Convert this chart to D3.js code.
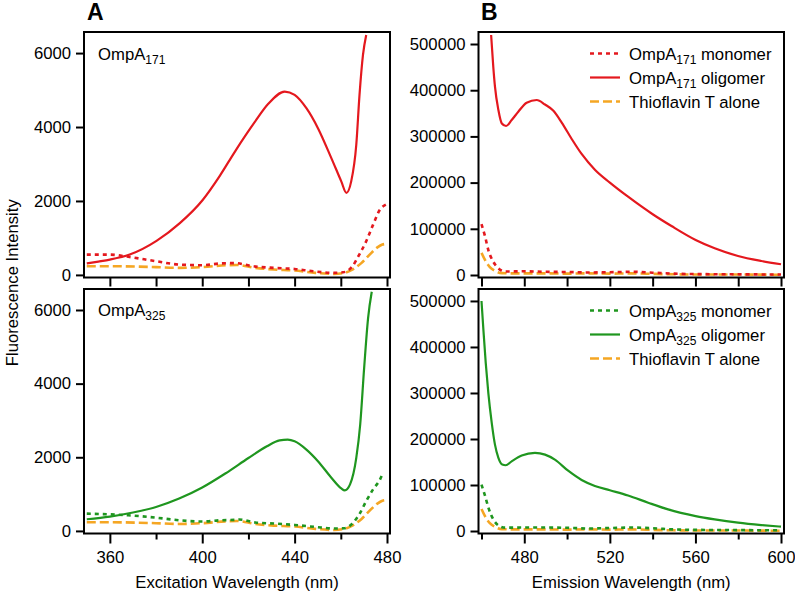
<!DOCTYPE html>
<html><head><meta charset="utf-8">
<script src="https://cdn.jsdelivr.net/npm/d3@7"></script>
<style>
body{margin:0;background:#fff;}
svg{display:block;font-family:"Liberation Sans",Arial,Helvetica,sans-serif;}
</style></head>
<body><svg id="chart" width="795" height="594"></svg>
<script>
// ---------- DATA ----------
const excTicks = [360, 380, 400, 420, 440, 460, 480];
const excLabelTicks = [360, 400, 440, 480];
const excYTicks = [0, 2000, 4000, 6000];
const emTicks = [460, 480, 500, 520, 540, 560, 580, 600];
const emLabelTicks = [480, 520, 560, 600];
const emYTicks = [0, 100000, 200000, 300000, 400000, 500000];

// Excitation spectra (panel A)
const excThtNm = [350, 360, 380, 390, 400, 410, 415, 423, 431, 440, 449, 457, 461.5, 465, 469, 472.5, 476, 478, 479.7];
const excTht   = [235, 235, 210, 190, 210, 260, 270, 190, 145, 118, 55, 27, 54, 145, 325, 550, 750, 820, 840];

const exc171MonoNm = [350, 360, 368, 380, 390, 400, 408, 414, 422, 431, 440, 448, 457, 461, 465, 468, 471, 474, 477, 479.5];
const exc171Mono   = [550, 550, 490, 370, 280, 262, 310, 320, 235, 190, 160, 100, 55, 70, 230, 550, 910, 1360, 1770, 1900];

const exc171OligNm = [350, 355, 360, 368.6, 380.2, 390.3, 400.1, 407.6, 414.1, 422.7, 428.5, 435.7, 440, 445.1, 450.1, 455.9, 460.2, 462.4, 464.5, 466.7, 468.1, 469.6, 471];
const exc171Olig   = [310, 360, 414, 550, 920, 1400, 2020, 2680, 3330, 4130, 4620, 4960, 4870, 4510, 3970, 3160, 2530, 2220, 2530, 3520, 4870, 5950, 6490];

const exc325MonoNm = [350, 360, 368, 380, 390, 400, 408, 414, 416, 423, 431, 440, 449, 457, 461.5, 465, 468, 471, 474, 477, 478.3];
const exc325Mono   = [470, 450, 425, 360, 290, 255, 290, 300, 310, 227, 200, 162, 108, 65, 73, 200, 450, 810, 1130, 1400, 1580];

const exc325OligNm = [350, 360, 370, 380, 390, 400, 410, 420, 428, 433.5, 437, 440, 445.1, 450.1, 455.9, 460.2, 461.7, 464, 466.7, 468.4, 470.1, 471.8, 473.4];
const exc325Olig   = [317, 390, 500, 650, 880, 1180, 1560, 1980, 2300, 2460, 2480, 2435, 2210, 1895, 1445, 1155, 1100, 1265, 1985, 2890, 4420, 5775, 6495];

// Emission spectra (panel B)
const emThtNm = [460, 461.7, 463.9, 466.3, 469.5, 475, 490, 500, 510, 520, 530, 540, 550, 560, 580, 600];
const emTht   = [48000, 32000, 17000, 9000, 4000, 3500, 3500, 3000, 3500, 3000, 3500, 2500, 1500, 1000, 1000, 500];

const em171MonoNm = [460, 461.7, 463.2, 465.5, 467.9, 471, 480, 490, 500, 510, 520, 530, 540, 550, 560, 580, 600];
const em171Mono   = [110000, 83000, 54000, 28800, 14500, 7500, 8000, 7000, 6500, 5500, 6000, 7000, 5000, 3000, 2000, 1500, 1000];

const em171OligNm = [464.5, 465.5, 466.3, 467.9, 469.5, 471.5, 474.1, 477.2, 481.1, 485.8, 489.7, 493.5, 497.5, 502.1, 506.8, 513, 520, 528.5, 540.2, 548.8, 560.1, 569, 579.9, 590.8, 600];
const em171Olig   = [519500, 451000, 407600, 357000, 328000, 322500, 335500, 353500, 373000, 378800, 369000, 356000, 330000, 295000, 262000, 228000, 200000, 169500, 131000, 106000, 75800, 57800, 41100, 30300, 23200];

const em325MonoNm = [460, 461.7, 463.5, 465.5, 467.9, 471, 480, 490, 500, 510, 520, 530, 540, 550, 560, 580, 600];
const em325Mono   = [101000, 75800, 47000, 25300, 12300, 7300, 7500, 7500, 7000, 5500, 6500, 7500, 6000, 3500, 2500, 2000, 1500];

const em325OligNm = [460, 460.9, 462, 463.2, 464.8, 466.3, 467.9, 469.7, 471.3, 474.1, 478.8, 485, 489.7, 494.3, 500.5, 506.8, 513, 520, 528.5, 537.9, 547.2, 560.1, 569, 579.9, 590.8, 600];
const em325Olig   = [500000, 436600, 364500, 299500, 234600, 187700, 158900, 144400, 142900, 151500, 163900, 169700, 166000, 155200, 131000, 111000, 98000, 88700, 77300, 61500, 47000, 32500, 25300, 18200, 13000, 9500];

// ---------- STYLE ----------
const RED = "#e4181e", GREEN = "#1f961f", ORANGE = "#f5a623";
const styles = {
  mono: {dash: "4,4", width: 2.6},
  olig: {dash: null, width: 2.2},
  tht:  {dash: "9,4", width: 2.6}
};

const svg = d3.select("#chart");
const FONT = 16.7;

const leftX = [84, 390], rightX = [478.5, 784];
const topY = [32, 277.5], botY = [289, 533.5];

const excX = d3.scaleLinear().domain([348.8, 481.3]).range(leftX);
const emX = d3.scaleLinear().domain([458.6, 601.4]).range(rightX);

function zip(xs, ys){ return xs.map((x,i)=>[x, ys[i]]); }

let clipId = 0;
function panel(opts){
  const {xs, yRange, yDomain, yTicks, xTicks, labelTicks, showLabels, series} = opts;
  const y = d3.scaleLinear().domain(yDomain).range([yRange[1], yRange[0]]);
  const g = svg.append("g");
  const id = "clip" + (clipId++);
  g.append("clipPath").attr("id", id).append("rect")
    .attr("x", xs.range()[0]).attr("y", yRange[0])
    .attr("width", xs.range()[1]-xs.range()[0]).attr("height", yRange[1]-yRange[0]);
  const line = d3.line().x(d=>xs(d[0])).y(d=>y(d[1])).curve(d3.curveMonotoneX);
  const lg = g.append("g").attr("clip-path", `url(#${id})`);
  series.forEach(s=>{
    lg.append("path").datum(zip(s.x, s.y))
      .attr("d", line).attr("fill","none")
      .attr("stroke", s.color).attr("stroke-width", s.style.width)
      .attr("stroke-dasharray", s.style.dash)
      .attr("stroke-linejoin","round");
  });
  // y axis
  const ya = g.append("g").attr("transform", `translate(${xs.range()[0]},0)`)
    .call(d3.axisLeft(y).tickValues(yTicks).tickSize(8).tickPadding(5).tickFormat(d3.format("d")));
  ya.select(".domain").remove();
  ya.selectAll("line").attr("stroke","#000").attr("stroke-width",2);
  ya.selectAll("text").attr("font-size",FONT).attr("fill","#000").attr("font-family","Liberation Sans, Arial, sans-serif");
  // x axis
  const xaY = yRange[1];
  if(!showLabels){
    const xa = g.append("g").attr("transform",`translate(0,${xaY})`)
      .call(d3.axisBottom(xs).tickValues(xTicks).tickSize(9).tickFormat(""));
    xa.select(".domain").remove();
    xa.selectAll("line").attr("stroke","#000").attr("stroke-width",2);
  } else {
    const minor = xTicks.filter(t=>!labelTicks.includes(t));
    const xm = g.append("g").attr("transform",`translate(0,${xaY})`)
      .call(d3.axisBottom(xs).tickValues(minor).tickSize(6).tickFormat(""));
    xm.select(".domain").remove();
    xm.selectAll("line").attr("stroke","#000").attr("stroke-width",2);
    const xa = g.append("g").attr("transform",`translate(0,${xaY})`)
      .call(d3.axisBottom(xs).tickValues(labelTicks).tickSize(10).tickPadding(8).tickFormat(d3.format("d")));
    xa.select(".domain").remove();
    xa.selectAll("line").attr("stroke","#000").attr("stroke-width",2);
    xa.selectAll("text").attr("font-size",FONT).attr("fill","#000").attr("font-family","Liberation Sans, Arial, sans-serif");
  }
  // frame
  g.append("rect").attr("x", xs.range()[0]).attr("y", yRange[0])
    .attr("width", xs.range()[1]-xs.range()[0]).attr("height", yRange[1]-yRange[0])
    .attr("fill","none").attr("stroke","#000").attr("stroke-width",2);
  return g;
}

const excDomain = [-70, 6570];
const emDomain = [-5400, 526000];

panel({xs: excX, yRange: topY, yDomain: excDomain, yTicks: excYTicks, xTicks: excTicks, labelTicks: excLabelTicks, showLabels:false,
  series:[
    {x: excThtNm, y: excTht, color: ORANGE, style: styles.tht},
    {x: exc171MonoNm, y: exc171Mono, color: RED, style: styles.mono},
    {x: exc171OligNm, y: exc171Olig, color: RED, style: styles.olig}
  ]});
panel({xs: excX, yRange: botY, yDomain: excDomain, yTicks: excYTicks, xTicks: excTicks, labelTicks: excLabelTicks, showLabels:true,
  series:[
    {x: excThtNm, y: excTht, color: ORANGE, style: styles.tht},
    {x: exc325MonoNm, y: exc325Mono, color: GREEN, style: styles.mono},
    {x: exc325OligNm, y: exc325Olig, color: GREEN, style: styles.olig}
  ]});
panel({xs: emX, yRange: topY, yDomain: emDomain, yTicks: emYTicks, xTicks: emTicks, labelTicks: emLabelTicks, showLabels:false,
  series:[
    {x: emThtNm, y: emTht, color: ORANGE, style: styles.tht},
    {x: em171MonoNm, y: em171Mono, color: RED, style: styles.mono},
    {x: em171OligNm, y: em171Olig, color: RED, style: styles.olig}
  ]});
panel({xs: emX, yRange: botY, yDomain: emDomain, yTicks: emYTicks, xTicks: emTicks, labelTicks: emLabelTicks, showLabels:true,
  series:[
    {x: emThtNm, y: emTht, color: ORANGE, style: styles.tht},
    {x: em325MonoNm, y: em325Mono, color: GREEN, style: styles.mono},
    {x: em325OligNm, y: em325Olig, color: GREEN, style: styles.olig}
  ]});

// text helpers
function subText(x, y, main, sub, rest){
  const t = svg.append("text").attr("x",x).attr("y",y).attr("font-size",FONT).attr("fill","#000");
  t.append("tspan").text(main);
  t.append("tspan").attr("font-size",12).attr("dy",4).text(sub);
  if(rest) t.append("tspan").attr("dy",-4).text(rest);
  return t;
}

// inset labels
subText(98, 59.5, "OmpA", "171");
subText(98, 315.5, "OmpA", "325");

// panel letters
svg.append("text").attr("x",87).attr("y",19.5).attr("font-size",23).attr("font-weight","bold").text("A");
svg.append("text").attr("x",481).attr("y",19.5).attr("font-size",23).attr("font-weight","bold").text("B");

// axis titles
svg.append("text").attr("x",(leftX[0]+leftX[1])/2).attr("y",588).attr("text-anchor","middle").attr("font-size",FONT).text("Excitation Wavelength (nm)");
svg.append("text").attr("x",(rightX[0]+rightX[1])/2).attr("y",588).attr("text-anchor","middle").attr("font-size",FONT).text("Emission Wavelength (nm)");
svg.append("text").attr("transform",`translate(18,${(topY[0]+botY[1])/2}) rotate(-90)`).attr("text-anchor","middle").attr("font-size",FONT).text("Fluorescence Intensity");

// legends
function legend(y0, color, num){
  const rows = [
    {style: styles.mono, color: color, main: "OmpA", sub: num, rest: " monomer"},
    {style: styles.olig, color: color, main: "OmpA", sub: num, rest: " oligomer"},
    {style: styles.tht, color: ORANGE, main: "Thioflavin T alone"}
  ];
  rows.forEach((r,i)=>{
    const by = y0 + i*24;
    svg.append("line").attr("x1",590).attr("x2",620).attr("y1",by-6).attr("y2",by-6)
      .attr("stroke",r.color).attr("stroke-width",r.style.width).attr("stroke-dasharray",r.style.dash);
    if(r.sub) subText(629, by, r.main, r.sub, r.rest);
    else svg.append("text").attr("x",629).attr("y",by).attr("font-size",FONT).text(r.main);
  });
}
legend(59.5, RED, "171");
legend(316.5, GREEN, "325");
</script></body></html>
